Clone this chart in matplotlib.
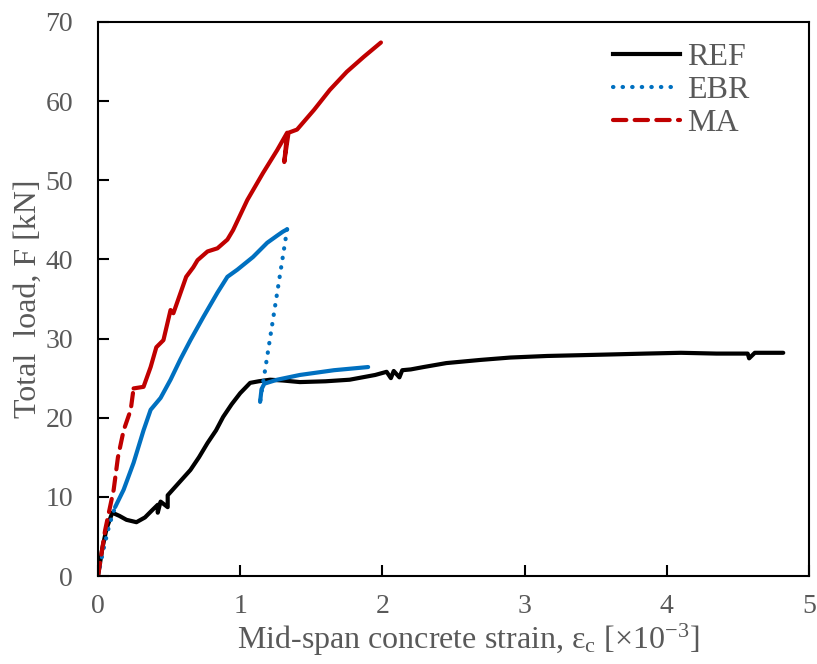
import numpy as np
import matplotlib
matplotlib.use("Agg")
import matplotlib.pyplot as plt
from matplotlib.lines import Line2D

# strain [x10^-3] and load [kN]
ref_x = [0.0, 0.03, 0.06, 0.10, 0.15, 0.20, 0.27, 0.33, 0.38, 0.42, 0.42, 0.44, 0.49, 0.49,
         0.52, 0.58, 0.65, 0.71, 0.77, 0.83, 0.88, 0.94, 1.00, 1.07, 1.13, 1.21, 1.30,
         1.42, 1.60, 1.77, 1.95, 2.03, 2.06, 2.08, 2.12, 2.14, 2.20, 2.29, 2.45, 2.69,
         2.90, 3.16, 3.40, 3.63, 3.85, 4.10, 4.35, 4.57, 4.58, 4.62, 4.82]
ref_y = [0.0, 3.5, 6.0, 8.0, 7.6, 7.1, 6.8, 7.4, 8.3, 9.0, 8.0, 9.4, 8.7, 10.2,
         10.8, 12.0, 13.4, 15.0, 16.8, 18.4, 20.1, 21.7, 23.1, 24.4, 24.6, 24.8, 24.7,
         24.5, 24.6, 24.8, 25.4, 25.8, 25.0, 25.9, 25.1, 26.0, 26.1, 26.4, 26.9, 27.3,
         27.6, 27.8, 27.9, 28.0, 28.1, 28.2, 28.1, 28.1, 27.5, 28.2, 28.2]

ebr_x = [0.0, 0.04, 0.08, 0.12, 0.18, 0.25, 0.32, 0.37, 0.44, 0.51, 0.58, 0.65, 0.74,
         0.84, 0.91, 0.98, 1.09, 1.19, 1.26, 1.30, 1.33,
         1.14, 1.15, 1.17, 1.26, 1.42, 1.66, 1.90]
ebr_y = [0.0, 3.5, 6.5, 8.7, 10.9, 14.3, 18.4, 21.0, 22.5, 24.8, 27.4, 29.8, 32.7,
         35.8, 37.8, 38.7, 40.3, 42.1, 43.0, 43.5, 43.8,
         22.0, 23.6, 24.3, 24.8, 25.4, 26.0, 26.4]

ma_x = [0.0, 0.05, 0.11, 0.14, 0.18, 0.23, 0.25, 0.32, 0.37, 0.41, 0.46, 0.51, 0.53,
        0.62, 0.67, 0.70, 0.77, 0.84, 0.91, 0.95, 1.05, 1.16, 1.26, 1.33, 1.31, 1.34,
        1.40, 1.52, 1.63, 1.75, 1.87, 1.99]
ma_y = [0.0, 5.8, 10.9, 15.0, 18.4, 21.0, 23.7, 23.9, 26.4, 28.9, 29.8, 33.6, 33.2,
        37.8, 39.0, 39.9, 41.0, 41.4, 42.5, 43.7, 47.5, 50.9, 53.8, 56.0, 52.3, 56.0,
        56.4, 58.9, 61.4, 63.7, 65.6, 67.4]

labels = ["REF", "EBR", "MA"]
colors = ["black", "#0070C0", "#C00000"]

plt.rcParams["font.family"] = ["Liberation Serif", "DejaVu Serif"]
plt.rcParams["mathtext.default"] = "regular"

fig = plt.figure(figsize=(8.17, 6.64), dpi=100)
ax = fig.add_axes([0.12, 0.1325, 0.870, 0.8345])

lw = 3
dotted = (0, (0.1, 2.2))
dashed = (0, (3.2, 2.0))


def piece(x, y, i0, i1, color, ls):
    ax.plot(x[i0:i1 + 1], y[i0:i1 + 1], color=color, lw=lw, ls=ls,
            solid_capstyle="round", dash_capstyle="round", solid_joinstyle="round")


# REF - dense everywhere
piece(ref_x, ref_y, 0, len(ref_x) - 1, colors[0], "-")

# EBR - sparse start and the drop after debonding
piece(ebr_x, ebr_y, 0, 3, colors[1], dotted)
piece(ebr_x, ebr_y, 3, 20, colors[1], "-")
piece(ebr_x, ebr_y, 20, 21, colors[1], dotted)
piece(ebr_x, ebr_y, 21, len(ebr_x) - 1, colors[1], "-")

# MA - sparse start
piece(ma_x, ma_y, 0, 6, colors[2], dashed)
piece(ma_x, ma_y, 6, len(ma_x) - 1, colors[2], "-")

ax.set_xlim(0, 5)
ax.set_ylim(0, 70)
ax.set_xticks(range(0, 6))
ax.set_yticks(range(0, 71, 10))

for s in ax.spines.values():
    s.set_linewidth(1.5)
    s.set_color("black")
ax.tick_params(direction="in", length=8, width=1.5, labelsize=20,
               labelcolor="#595959")
ax.tick_params(axis="x", pad=13)
ax.tick_params(axis="y", pad=18)

ax.set_xlabel("Mid-span concrete strain, ε$_c$ [×10$^{-3}$]", fontsize=23,
              color="#595959", labelpad=5)
ax.xaxis.set_label_coords(0.52, -0.082)
ax.set_ylabel("Total  load, F [kN]", fontsize=23, color="#595959", labelpad=2)

handles = [Line2D([], [], color=colors[0], lw=lw, ls="-"),
           Line2D([], [], color=colors[1], lw=lw, ls=dotted, dash_capstyle="round"),
           Line2D([], [], color=colors[2], lw=lw, ls=dashed, dash_capstyle="round")]
leg = ax.legend(handles, labels, loc="upper left", frameon=False, fontsize=23,
                handlelength=2.1, labelspacing=0.12, handletextpad=0.2,
                borderpad=0, borderaxespad=0,
                bbox_to_anchor=(0.725, 0.963), labelcolor="#595959")

fig.savefig("out.png", dpi=100)
